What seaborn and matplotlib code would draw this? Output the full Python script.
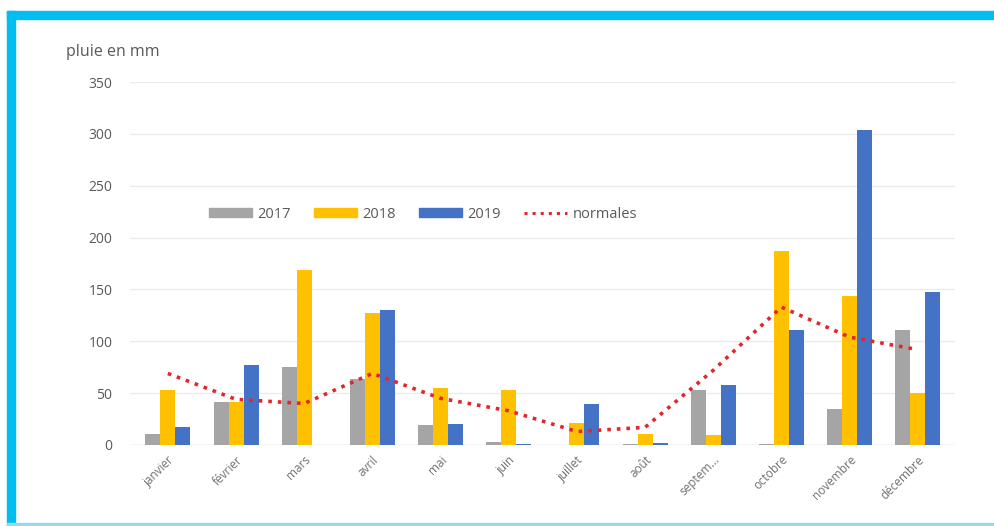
import numpy as np
import pandas as pd
import seaborn as sns
import matplotlib.pyplot as plt
from matplotlib.patches import Patch, Rectangle
from matplotlib.lines import Line2D

# Monthly rainfall (mm)
months = ['janvier', 'février', 'mars', 'avril', 'mai', 'juin', 'juillet',
          'août', 'septem...', 'octobre', 'novembre', 'décembre']
pluie_2017 = [11, 41, 75, 64, 19, 3, 0, 0.5, 53, 1, 35, 111]
pluie_2018 = [53, 41, 169, 127, 55, 53, 21, 11, 10, 187, 144, 50]
pluie_2019 = [17, 77, 0, 130, 20, 1, 40, 2, 58, 111, 304, 148]
normales = [69, 44, 40, 69, 45, 33, 13, 17, 72, 133, 104, 92]
years = ['2017', '2018', '2019']

colors = {'2017': '#A5A5A5', '2018': '#FFC000', '2019': '#4472C4'}
red = '#E3262E'
txt = '#595959'

df = pd.DataFrame({
    'mois': months * 3,
    'annee': np.repeat(years, len(months)),
    'pluie': pluie_2017 + pluie_2018 + pluie_2019,
})

sns.set_style('white')
plt.rcParams['font.family'] = ['Open Sans', 'DejaVu Sans']

fig = plt.figure(figsize=(9.95, 5.26), dpi=100)
ax = fig.add_axes([0.131, 0.154, 0.829, 0.69])

sns.barplot(data=df, x='mois', y='pluie', hue='annee', palette=colors,
            width=0.66, gap=0, ax=ax, legend=False, saturation=1,
            linewidth=0, edgecolor='none')

sns.pointplot(x=months, y=normales, color=red, markers='', linestyles=':',
              ax=ax)
for line in ax.lines:
    line.set_linewidth(2.6)

ax.set_ylim(0, 350)
ax.set_yticks(range(0, 351, 50))
ax.set_xlim(-0.55, 11.55)
ax.yaxis.grid(True, color='#EBEBEB', linewidth=1)
ax.set_axisbelow(True)
sns.despine(ax=ax, left=True, bottom=True)
ax.axhline(0, color='#D9D9D9', linewidth=1, zorder=0.5)
ax.set_xlabel('')
ax.set_ylabel('')
ax.tick_params(axis='both', length=0, colors=txt)
ax.tick_params(axis='y', pad=13)
plt.setp(ax.get_yticklabels(), fontsize=10, color=txt)
ax.set_xticks(range(len(months)))
ax.set_xticklabels(months, rotation=45, ha='right', rotation_mode='anchor',
                   fontsize=8.5, color='#707070')
ax.tick_params(axis='x', pad=6)

fig.text(0.066, 0.902, 'pluie en mm', fontsize=11.5, color=txt, va='center')

handles = [Patch(color=colors[y]) for y in years]
handles.append(Line2D([0], [0], color=red, linestyle=':', linewidth=2.2))
ax.legend(handles, years + ['normales'], ncol=4, frameon=False,
          loc='center left', bbox_to_anchor=(0.08, 0.636), fontsize=10.5,
          handlelength=2.9, handleheight=0.6, handletextpad=0.4,
          columnspacing=1.6, labelcolor=txt)

# cyan frame of the picture (top and left thick, bottom thin)
fig.patches.append(Rectangle((0.007, 0.964), 0.993, 0.016, color='#00BFF0',
                             transform=fig.transFigure, figure=fig))
fig.patches.append(Rectangle((0.007, 0.0), 0.008, 0.98, color='#00BFF0',
                             transform=fig.transFigure, figure=fig))
fig.patches.append(Rectangle((0.007, 0.002), 0.993, 0.004, color='#8FDDF2',
                             transform=fig.transFigure, figure=fig))

fig.savefig('out.png', dpi=100)
